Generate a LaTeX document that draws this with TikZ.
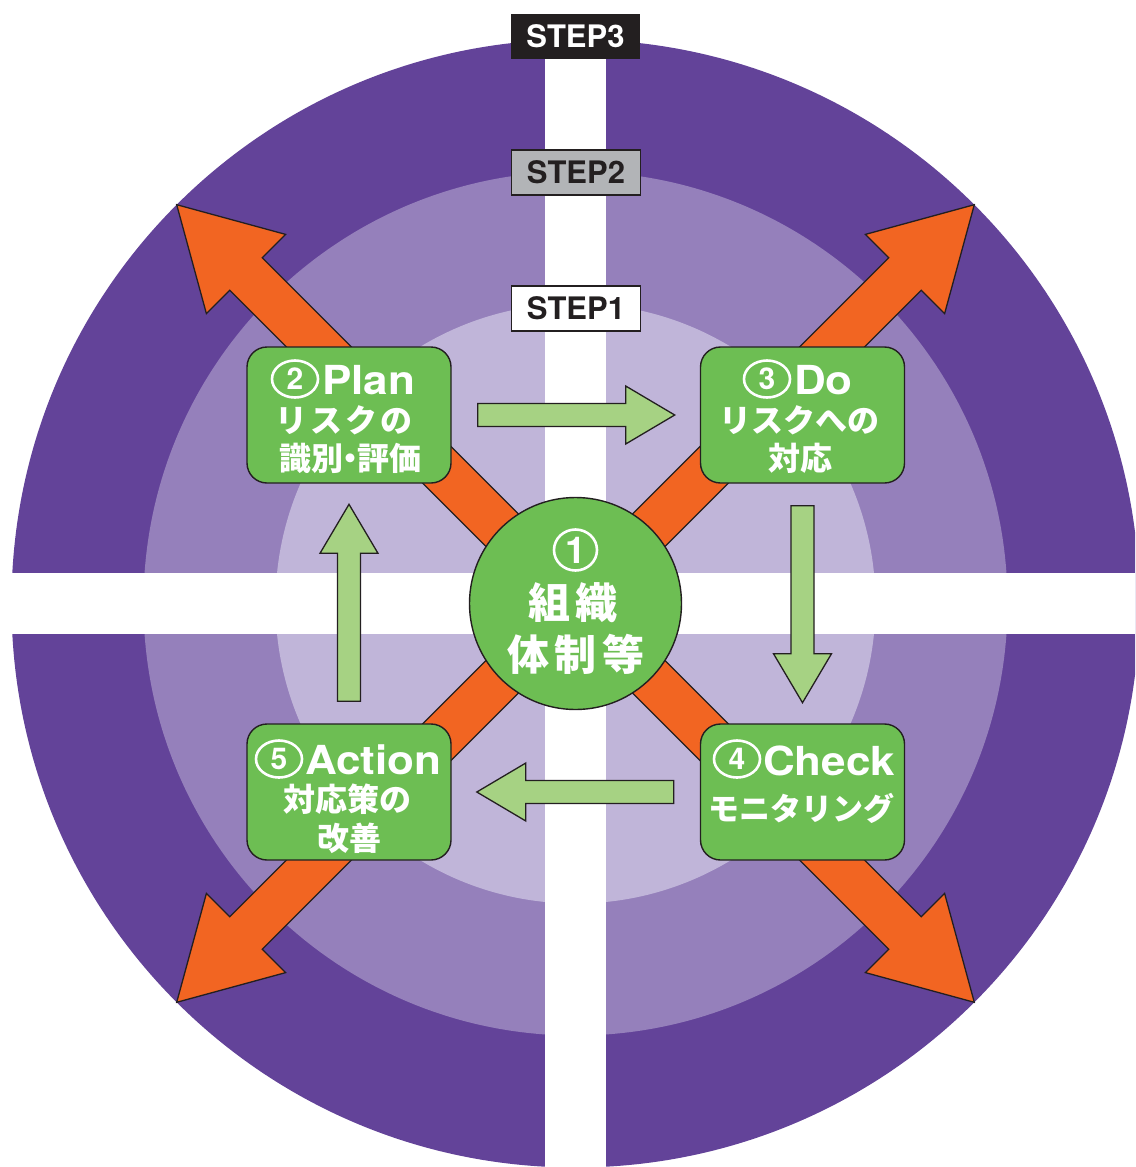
\documentclass[tikz,border=0pt]{standalone}
\usepackage{fontspec}
\usetikzlibrary{calc,shapes.geometric}
\setmainfont{TeX Gyre Heros}
\newfontfamily\jp{Noto Sans CJK JP}
\newfontfamily\headf[FakeStretch=1.1]{TeX Gyre Heros}
\definecolor{outerP}{HTML}{634399}
\definecolor{midP}{HTML}{9580BB}
\definecolor{innP}{HTML}{C0B5D9}
\definecolor{orangeA}{HTML}{F26522}
\definecolor{boxG}{HTML}{6DBE53}
\definecolor{arrG}{HTML}{A6D283}
\definecolor{lineK}{HTML}{231F20}
\definecolor{stepGray}{HTML}{B2B4B7}
\begin{document}
\begin{tikzpicture}[x=1pt,y=-1pt,
  gbox/.style={draw=lineK, line width=1.4pt, fill=boxG, rounded corners=20pt,
    minimum width=204pt, minimum height=136pt, inner sep=0pt},
  orangearr/.style={draw=lineK, line width=1.3pt, fill=orangeA, line join=miter},
  garrow/.style={draw=lineK, line width=1.3pt, fill=arrG},
  ttl/.style={font=\headf\bfseries\fontsize{40}{40}\selectfont, text=white, inner sep=0pt, anchor=base west},
  circnum/.style={ellipse, draw=white, line width=2.6pt, minimum width=46pt, minimum height=37pt,
    inner sep=0pt, text=white, font=\bfseries\fontsize{30}{30}\selectfont},
  jpl/.style={font=\jp\bfseries\fontsize{32}{32}\selectfont, text=white, inner sep=0pt},
  jpc/.style={font=\jp\bfseries\fontsize{42}{42}\selectfont, text=white, inner sep=0pt},
  steplabel/.style={minimum width=129pt, minimum height=45pt, inner sep=0pt,
    font=\bfseries\fontsize{31}{31}\selectfont}
]
\useasboundingbox (0,0) rectangle (1135,1167);
\clip (0,0) rectangle (1135,1167);
\coordinate (C) at (575.5,603.5);
% rings
\fill[outerP] (C) circle (564);
\fill[midP] (C) circle (432);
\fill[innP] (C) circle (300);
% white cross
\fill[white] (545,0) rectangle (606,1167);
\fill[white] (0,573) rectangle (1135,634);
% orange diagonal arrows
\foreach \a in {45,135,225,315}
  \draw[orangearr, shift={(C)}, rotate=\a]
    (0,23) -- (466,23) -- (466,56) -- (564,0) -- (466,-56) -- (466,-23) -- (0,-23) -- cycle;
% boxes
\node[gbox] (plan) at (349,415) {};
\node[gbox] (do) at (802.5,415) {};
\node[gbox] (action) at (349,792) {};
\node[gbox] (check) at (802.5,792) {};
% center circle
\node[circle, draw=lineK, line width=1.4pt, fill=boxG, minimum size=212pt, inner sep=0pt] (org) at (C) {};
% green cycle arrows
\draw[garrow, shift={($(plan.east)+(26,0)$)}, rotate=0]
  (0,11.5) -- (148,11.5) -- (148,29) -- (197,0) -- (148,-29) -- (148,-11.5) -- (0,-11.5) -- cycle;
\draw[garrow, shift={($(do.south)+(0,22)$)}, rotate=-90]
  (0,11.5) -- (148,11.5) -- (148,29) -- (197,0) -- (148,-29) -- (148,-11.5) -- (0,-11.5) -- cycle;
\draw[garrow, shift={($(check.west)+(-26,0)$)}, rotate=180]
  (0,11.5) -- (148,11.5) -- (148,29) -- (197,0) -- (148,-29) -- (148,-11.5) -- (0,-11.5) -- cycle;
\draw[garrow, shift={($(action.north)+(0,-22)$)}, rotate=90]
  (0,11.5) -- (148,11.5) -- (148,29) -- (197,0) -- (148,-29) -- (148,-11.5) -- (0,-11.5) -- cycle;
% step labels
\node[steplabel, fill=lineK, text=white] (s3) at (575.5,36) {STEP3};
\node[steplabel, fill=stepGray, draw=lineK, line width=1.2pt, text=lineK] (s2) at (576,172.5) {STEP2};
\node[steplabel, fill=white, draw=lineK, line width=1.2pt, text=lineK] (s1) at (576,308.5) {STEP1};
% texts: Plan
\node[circnum] (planN) at (295,379) {2};
\node[ttl] (planA) at (322,394) {Plan};
\node[jpl] (planB) at (344,420) {リ\kern3pt ス\kern3pt ク\kern3pt の};
\node[jpl] (planC) at (350,458.5) {識別\kern-9pt・\kern-9pt 評価};
% Do
\node[circnum] (doN) at (767,379) {3};
\node[ttl] (doA) at (794,394) {Do};
\node[jpl] (doB) at (799,420) {リスクへの};
\node[jpl] (doC) at (800,458) {対応};
% Action
\node[circnum] (actN) at (279,759) {5};
\node[ttl] (actA) at (305,774) {Action};
\node[jpl] (actB) at (347,799) {対応策の};
\node[jpl] (actC) at (349,838) {改善};
% Check
\node[circnum] (chkN) at (737,759) {4};
\node[ttl] (chkA) at (763,775) {Check};
\node[jpl, font=\jp\bfseries\fontsize{31}{31}\selectfont] (chkB) at (801,808) {モニタリング};
% center
\node[circnum, minimum width=43pt, minimum height=41pt, font=\bfseries\fontsize{37}{37}\selectfont] (orgA) at (575.5,550) {1};
\node[jpc] (orgB) at (573,602.5) {組\kern5pt 織};
\node[jpc] (orgC) at (576,654.7) {体\kern6pt 制\kern6pt 等};
\end{tikzpicture}
\end{document}
